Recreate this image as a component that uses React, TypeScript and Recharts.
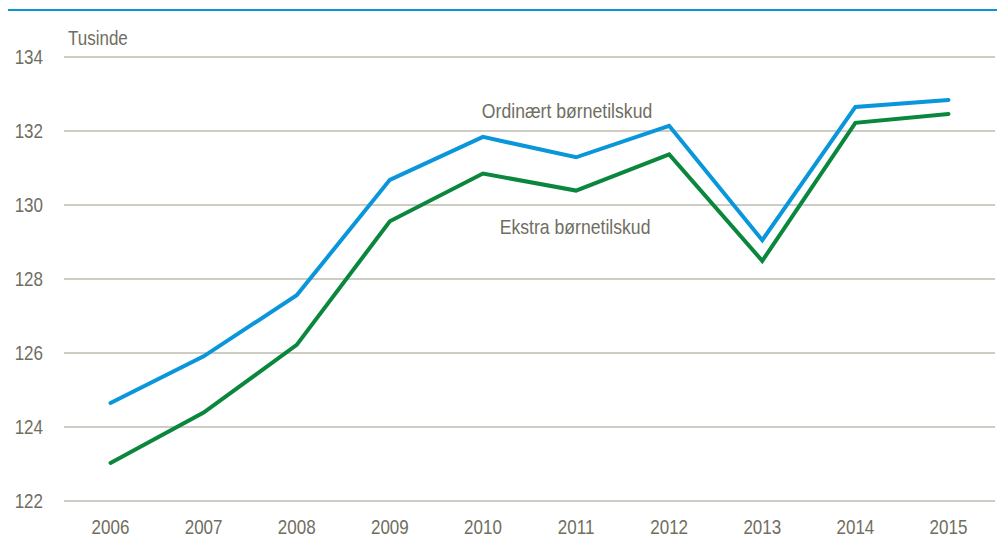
import React from "react";
import {
  LineChart,
  Line,
  XAxis,
  YAxis,
  CartesianGrid,
  ReferenceDot,
} from "recharts";

const years = ["2006", "2007", "2008", "2009", "2010", "2011", "2012", "2013", "2014", "2015"];
const ordinaert = [124.65, 125.91, 127.56, 130.68, 131.84, 131.29, 132.14, 129.05, 132.65, 132.84];
const ekstra = [123.03, 124.39, 126.22, 129.56, 130.85, 130.39, 131.37, 128.49, 132.22, 132.46];
const yTicks = [122, 124, 126, 128, 130, 132, 134];

const data = years.map((year, i) => ({
  year,
  ordinaert: ordinaert[i],
  ekstra: ekstra[i],
}));

const FONT = '"Liberation Sans", Arial, sans-serif';
const TEXT = "#6F6E5F";

// condensed text drawn at (x, y); the original uses a narrow face
const Narrow = ({ x, y, anchor = "middle", squeeze = 0.85, size = 20, children }: any) => (
  <text
    transform={`translate(${x},${y}) scale(${squeeze},1)`}
    x={0}
    y={0}
    textAnchor={anchor}
    fill={TEXT}
    fontSize={size}
    fontFamily={FONT}
  >
    {children}
  </text>
);

const XTick = ({ x, y, payload }: any) => (
  <Narrow x={x} y={y + 14}>{payload.value}</Narrow>
);

const YTick = ({ x, y, payload }: any) => (
  <Narrow x={x} y={y + 7} anchor="end">{payload.value}</Narrow>
);

// text centred on a reference point, nudged sideways
const CenterText = ({ viewBox, text, dx = 0 }: any) => (
  <Narrow x={viewBox.x + viewBox.width / 2 + dx} y={viewBox.y + viewBox.height / 2 + 7} squeeze={0.86} size={20.5}>
    {text}
  </Narrow>
);

const UnitLabel = ({ viewBox }: any) => (
  <Narrow x={viewBox.x + viewBox.width + 4} y={viewBox.y - 12} anchor="start">
    Tusinde
  </Narrow>
);

export default function App() {
  return (
    <div style={{ position: "absolute", left: 0, top: 0, width: 997, height: 544, background: "#fff" }}>
      <div style={{ position: "absolute", left: 8, top: 9, width: 989, height: 2, background: "#0A93D6" }} />
      <LineChart
        width={997}
        height={544}
        data={data}
        margin={{ top: 57, right: 2, bottom: 0, left: 0 }}
      >
        <CartesianGrid vertical={false} stroke="#BEBCB1" strokeWidth={1.3} />
        <XAxis
          dataKey="year"
          axisLine={false}
          tickLine={false}
          tickSize={0}
          tickMargin={19}
          padding={{ left: 46.5, right: 46.5 }}
          tick={<XTick />}
          interval={0}
          height={43}
        />
        <YAxis
          domain={[122, 134]}
          ticks={yTicks}
          axisLine={false}
          tickLine={false}
          tickSize={0}
          tickMargin={21}
          width={64}
          tick={<YTick />}
          label={<UnitLabel />}
        />
        <Line
          dataKey="ordinaert"
          stroke="#0A96DA"
          strokeWidth={4}
          dot={false}
          isAnimationActive={false}
          strokeLinecap="round"
        />
        <Line
          dataKey="ekstra"
          stroke="#0B873D"
          strokeWidth={4}
          dot={false}
          isAnimationActive={false}
          strokeLinecap="round"
        />
        <ReferenceDot
          x="2011"
          y={132.55}
          r={0}
          stroke="none"
          fill="none"
          label={<CenterText text="Ordinært børnetilskud" dx={-9} />}
        />
        <ReferenceDot
          x="2011"
          y={129.41}
          r={0}
          stroke="none"
          fill="none"
          label={<CenterText text="Ekstra børnetilskud" dx={-1} />}
        />
      </LineChart>
    </div>
  );
}
